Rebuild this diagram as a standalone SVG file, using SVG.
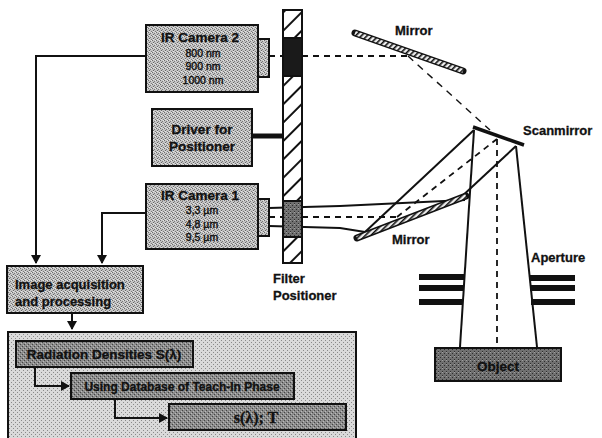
<svg xmlns="http://www.w3.org/2000/svg" width="602" height="438" viewBox="0 0 602 438">
<defs>
<pattern id="g1" width="4" height="4" patternUnits="userSpaceOnUse"><rect width="4" height="4" fill="#c4c4c4"/><rect x="0" y="0" width="1" height="1" fill="#6e6e6e"/><rect x="2" y="1" width="1" height="1" fill="#7a7a7a"/><rect x="1" y="2" width="1" height="1" fill="#666"/><rect x="3" y="3" width="1" height="1" fill="#7a7a7a"/><rect x="3" y="0" width="1" height="1" fill="#e6e6e6"/><rect x="1" y="3" width="1" height="1" fill="#e6e6e6"/></pattern>
<pattern id="g2" width="4" height="4" patternUnits="userSpaceOnUse"><rect width="4" height="4" fill="#8c8c8c"/><rect x="0" y="0" width="1" height="1" fill="#444"/><rect x="2" y="2" width="1" height="1" fill="#444"/><rect x="1" y="3" width="1" height="1" fill="#bbb"/><rect x="3" y="1" width="1" height="1" fill="#bbb"/></pattern>
<pattern id="g3" width="4" height="4" patternUnits="userSpaceOnUse"><rect width="4" height="4" fill="#dadada"/><rect x="1" y="0" width="1" height="1" fill="#8a8a8a"/><rect x="3" y="2" width="1" height="1" fill="#8a8a8a"/></pattern>
<pattern id="g4" width="4" height="4" patternUnits="userSpaceOnUse"><rect width="4" height="4" fill="#707070"/><rect x="0" y="1" width="1" height="1" fill="#2e2e2e"/><rect x="2" y="3" width="1" height="1" fill="#2e2e2e"/><rect x="2" y="0" width="1" height="1" fill="#a0a0a0"/></pattern>
<pattern id="hatch" width="13" height="13" patternUnits="userSpaceOnUse" patternTransform="rotate(-45) scale(1)"><rect width="13" height="13" fill="#fff"/><rect width="13" height="2" fill="#111"/></pattern>
<pattern id="mh" width="4" height="4" patternUnits="userSpaceOnUse" patternTransform="rotate(-45)"><rect width="4" height="4" fill="#eee"/><rect width="4" height="1.6" fill="#111"/></pattern>
<marker id="arr" markerWidth="11" markerHeight="11" refX="8" refY="5" orient="auto" markerUnits="userSpaceOnUse"><path d="M0 0L9 5L0 10Z" fill="#111"/></marker>
</defs>
<style>
text{font-family:"Liberation Sans",Arial,sans-serif;font-weight:700;fill:#111;stroke:#111;stroke-width:.3}
.box{stroke:#111;stroke-width:2}
.l{fill:none;stroke:#111;stroke-width:2}
.d{fill:none;stroke:#111;stroke-width:1.8;stroke-dasharray:6 5}
.thin{fill:none;stroke:#111;stroke-width:1.4;stroke-dasharray:7 6}
.c{text-anchor:middle}
.h{font-size:13.5px}
.s{font-size:10.5px;font-weight:400;stroke-width:.4}
.m{font-size:13px}
.bar{fill:#111}
</style>

<g id="connectors">
<path class="l" d="M146 56H36V263" marker-end="url(#arr)"/>
<path class="l" d="M146 213H102V263" marker-end="url(#arr)"/>
<path class="l" d="M72 313V329" marker-end="url(#arr)"/>
<path class="l" d="M35 367V386H69" marker-end="url(#arr)"/>
<path class="l" d="M115 399V418H167" marker-end="url(#arr)"/>
<path d="M252 136H283" fill="none" stroke="#111" stroke-width="5"/>
<path class="d" d="M269 56H408"/>
<path class="thin" d="M408 56L490 130"/>
<path class="l" d="M269 208L340 206L465 200"/>
<path class="l" d="M269 226L340 228L365 232"/>
<path class="d" d="M269 217H397"/>
<path class="d" d="M397 217L497 139"/>
<path class="l" stroke-width="1.6" d="M365 232L474 130"/>
<path class="l" stroke-width="1.6" d="M459 199L516 146"/>
<path class="l" d="M474 130L460 347"/>
<path class="l" d="M516 146L537 347"/>
<path class="d" d="M497 139V347"/>
</g>

<g id="filter-positioner">
<rect x="283" y="10" width="19" height="253" fill="url(#hatch)" class="box"/>
<rect x="283" y="38" width="19" height="38" fill="#1a1a1a" stroke="#111" stroke-width="2"/>
<rect x="283" y="201" width="19" height="36" fill="url(#g4)" class="box"/>
<text x="273" y="301" class="m"><tspan x="273" y="283">Filter</tspan><tspan x="273" y="300">Positioner</tspan></text>
</g>

<g id="ir-camera-2">
<rect x="258" y="39" width="11" height="38" fill="url(#g1)" class="box"/>
<rect x="146" y="25" width="112" height="67" fill="url(#g1)" class="box"/>
<text x="200" y="42" class="c h">IR Camera 2</text>
<text x="203" y="57" class="c s">800 nm</text>
<text x="203" y="70" class="c s">900 nm</text>
<text x="203" y="84" class="c s">1000 nm</text>
</g>

<g id="driver">
<rect x="152" y="109" width="100" height="57" fill="url(#g1)" class="box"/>
<text x="202" y="134" class="c h">Driver for</text>
<text x="202" y="151" class="c h">Positioner</text>
</g>

<g id="ir-camera-1">
<rect x="258" y="199" width="11" height="37" fill="url(#g1)" class="box"/>
<rect x="146" y="184" width="112" height="65" fill="url(#g1)" class="box"/>
<text x="200" y="200" class="c h">IR Camera 1</text>
<text x="202" y="214" class="c s">3,3 µm</text>
<text x="202" y="228" class="c s">4,8 µm</text>
<text x="202" y="241" class="c s">9,5 µm</text>
</g>

<g id="image-acquisition">
<rect x="7" y="266" width="136" height="47" fill="url(#g1)" class="box"/>
<text x="15" y="289" class="m">Image acquisition</text>
<text x="15" y="306" class="m">and processing</text>
</g>

<g id="processing">
<rect x="8" y="332" width="348" height="108" fill="url(#g3)" class="box"/>
</g>
<g id="radiation-densities">
<rect x="16" y="341" width="177" height="26" fill="url(#g2)" class="box"/>
<text x="104" y="359" class="c h">Radiation Densities S(λ)</text>
</g>
<g id="database">
<rect x="71" y="373" width="223" height="26" fill="url(#g2)" class="box"/>
<text x="182" y="391" class="c" style="font-size:12px">Using Database of Teach-In Phase</text>
</g>
<g id="result">
<rect x="169" y="404" width="177" height="26" fill="url(#g2)" class="box"/>
<text x="256" y="423" class="c" style="font-family:'Liberation Serif',serif;font-size:16px">s(λ); T</text>
</g>
<path class="l" d="M35 367V386H69" marker-end="url(#arr)"/>
<path class="l" d="M115 399V418H167" marker-end="url(#arr)"/>

<g id="mirror-1">
<path d="M355 33L463 71" stroke="#111" stroke-width="7" stroke-linecap="round"/>
<path d="M355 33L463 71" stroke="url(#mh)" stroke-width="4"/>
<text x="395" y="35" class="m">Mirror</text>
</g>
<g id="scanmirror">
<path d="M473 127L524 145" stroke="#111" stroke-width="3.5"/>
<text x="523" y="135" class="m">Scanmirror</text>
</g>
<g id="mirror-2">
<path d="M357 238L466 196" stroke="#111" stroke-width="7" stroke-linecap="round"/>
<path d="M357 238L466 196" stroke="url(#mh)" stroke-width="4"/>
<text x="392" y="244" class="m">Mirror</text>
</g>
<g id="aperture">
<rect class="bar" x="419" y="274" width="45" height="6"/>
<rect class="bar" x="419" y="285" width="45" height="6"/>
<rect class="bar" x="419" y="299" width="43" height="6"/>
<rect class="bar" x="530" y="275" width="45" height="6"/>
<rect class="bar" x="530" y="285" width="45" height="6"/>
<rect class="bar" x="531" y="299" width="44" height="6"/>
<text x="531" y="262" class="m">Aperture</text>
</g>
<g id="object">
<rect x="435" y="348" width="126" height="33" fill="url(#g4)" class="box"/>
<text x="498" y="371" class="c h">Object</text>
</g>
</svg>
